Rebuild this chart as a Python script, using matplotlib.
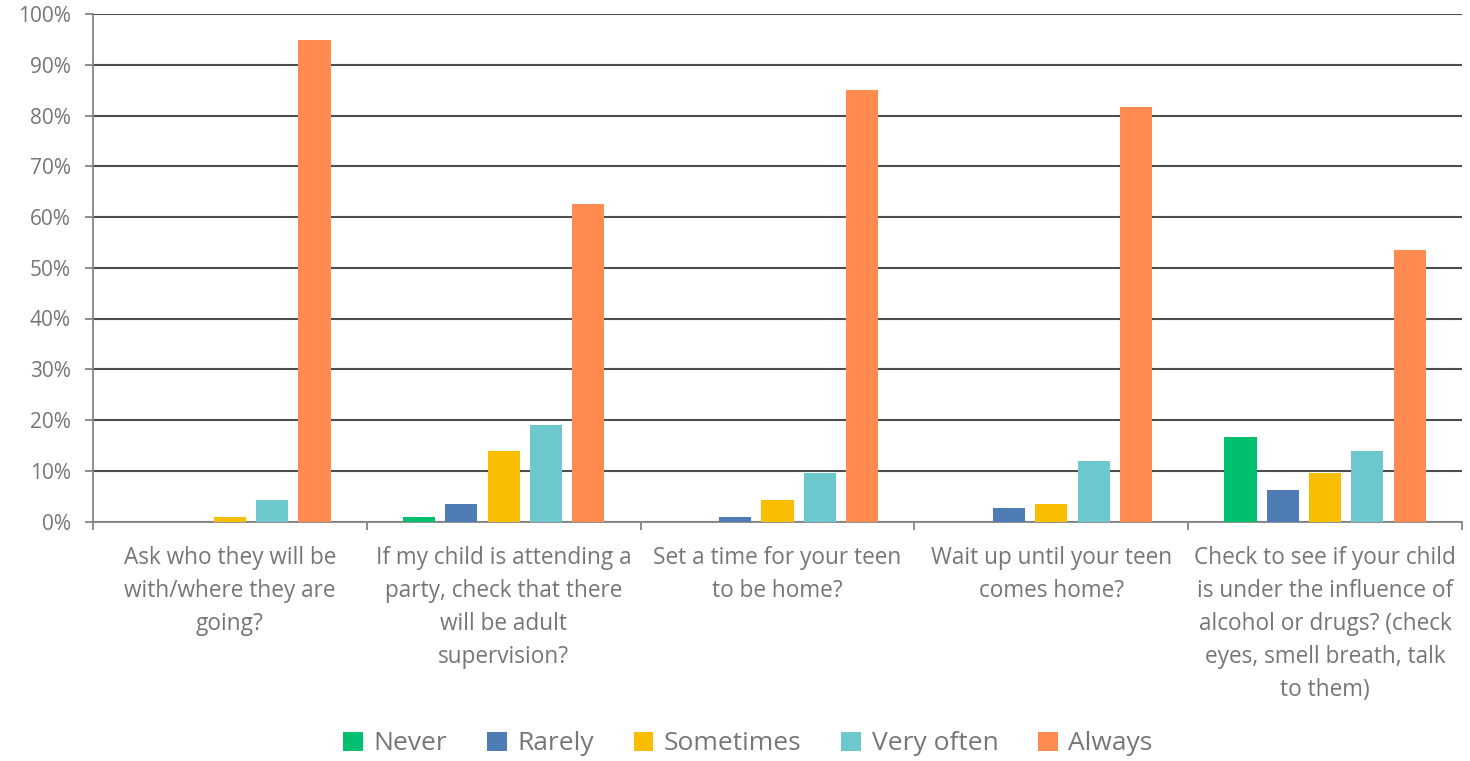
import numpy as np
import matplotlib.pyplot as plt
from matplotlib.ticker import PercentFormatter

categories = [
    "Ask who they will be\nwith/where they are\ngoing?",
    "If my child is attending a\nparty, check that there\nwill be adult\nsupervision?",
    "Set a time for your teen\nto be home?",
    "Wait up until your teen\ncomes home?",
    "Check to see if your child\nis under the influence of\nalcohol or drugs? (check\neyes, smell breath, talk\nto them)",
]
series = ["Never", "Rarely", "Sometimes", "Very often", "Always"]
never = [0.0, 0.9, 0.0, 0.0, 16.6]
rarely = [0.0, 3.5, 0.9, 2.6, 6.2]
sometimes = [0.9, 13.8, 4.3, 3.5, 9.5]
very_often = [4.3, 19.1, 9.5, 12.0, 13.9]
always = [94.8, 62.5, 85.1, 81.6, 53.4]
colors = ["#00BF6F", "#507CB6", "#F9BE00", "#6CC8CC", "#FF8B50"]

plt.rcParams['font.family'] = ['Open Sans', 'DejaVu Sans']
txt = "#767676"

fig = plt.figure(figsize=(14.7, 7.61), dpi=100)
ax = fig.add_axes([93 / 1470, 1 - 521.5 / 761, 1369 / 1470, 507.5 / 761])

x = np.arange(len(categories))
pitch = 0.1545
width = 0.117
values = [never, rarely, sometimes, very_often, always]
for i, (name, vals, c) in enumerate(zip(series, values, colors)):
    ax.bar(x + (i - 2) * pitch, vals, width, color=c, label=name, zorder=3)

ax.set_xlim(-0.5, len(categories) - 0.5)
ax.set_ylim(0, 100)
ax.set_yticks(np.arange(0, 101, 10))
ax.yaxis.set_major_formatter(PercentFormatter(decimals=0))
ax.grid(axis='y', color='#4d4d4d', linewidth=1.5, zorder=0)

# category separators as ticks
ax.set_xticks(np.arange(-0.5, len(categories), 1))
ax.set_xticklabels([])
ax.tick_params(axis='x', length=6, color='#868686', width=1.3)
ax.tick_params(axis='y', length=6, color='#868686', width=1.3, labelsize=15,
               labelcolor=txt, pad=10)
for s in ['top', 'right']:
    ax.spines[s].set_visible(False)
for s in ['left', 'bottom']:
    ax.spines[s].set_color('#868686')
    ax.spines[s].set_linewidth(1.3)

for xi, lab in zip(x, categories):
    ax.text(xi, -4.8, lab, ha='center', va='top', fontsize=16.3, color=txt,
            linespacing=1.5, transform=ax.transData)

fig.legend(loc='center', bbox_to_anchor=(748 / 1470, 1 - 744 / 761), ncol=5,
           frameon=False, fontsize=19, labelcolor=txt, handlelength=0.75,
           handleheight=0.75, handletextpad=0.4, columnspacing=1.5)

fig.savefig('out.png', dpi=100)
